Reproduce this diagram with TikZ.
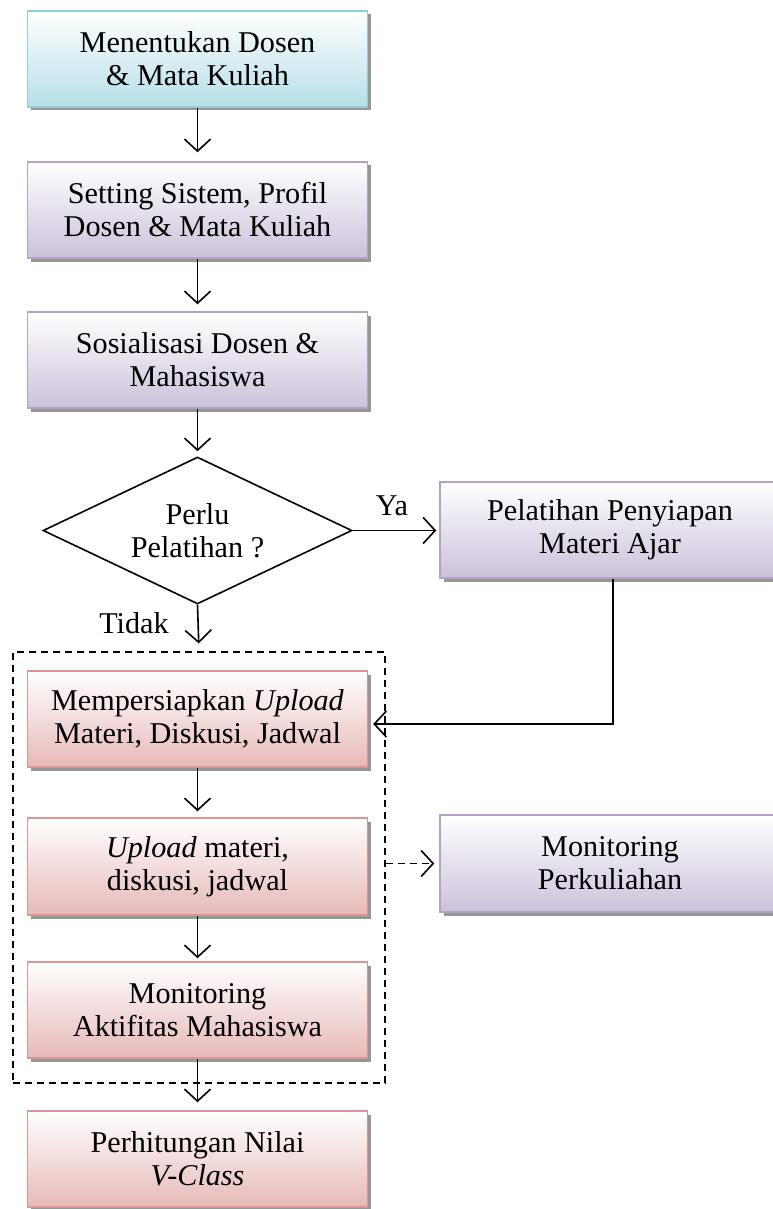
\documentclass[tikz,border=0pt]{standalone}
\usepackage{fontspec}
\setmainfont{Liberation Serif}
\usetikzlibrary{arrows.meta,shapes.geometric,shadows}
\definecolor{cyanB}{HTML}{B7DEE8}
\definecolor{cyanL}{HTML}{93CDDD}
\definecolor{purB}{HTML}{CCC1DA}
\definecolor{purL}{HTML}{B3A2C7}
\definecolor{redB}{HTML}{E6B9B8}
\definecolor{redL}{HTML}{D99694}
\tikzset{
  box/.style={rectangle, minimum width=340pt, minimum height=96pt, inner sep=0pt,
    align=center, line width=1.5pt, top color=white,
    font=\fontsize{30.2}{33}\selectfont,
    drop shadow={shadow xshift=3.5pt, shadow yshift=-3.5pt, fill=black!55, opacity=0.75}},
  cyanbox/.style={box, draw=cyanL, bottom color=cyanB},
  purbox/.style={box, draw=purL, bottom color=purB},
  redbox/.style={box, draw=redL, bottom color=redB},
  arr/.style={line width=1.6pt, -{Straight Barb[length=12pt,width=26pt,line width=1.6pt]}},
  lbl/.style={font=\fontsize{30.2}{33}\selectfont, anchor=base, inner sep=0pt},
}
\begin{document}
\begin{tikzpicture}[x=1pt,y=-1pt]
\useasboundingbox (0,0) rectangle (773,1209);
% group frame
\node[draw, dashed, dash pattern=on 7pt off 5pt, line width=1.4pt, minimum width=372pt, minimum height=431pt, inner sep=0pt] (grp) at (199,867.5) {};
% nodes
\node[cyanbox] (b1) at (197.5,59) {Menentukan Dosen\\ \& Mata Kuliah};
\node[purbox] (b2) at (197.5,210) {Setting Sistem, Profil\\ Dosen \& Mata Kuliah};
\node[purbox] (b3) at (197.5,360) {Sosialisasi Dosen \&\\ Mahasiswa};
\node[diamond, draw, line width=1.6pt, minimum width=309pt, minimum height=147pt, aspect=2.1, inner sep=0pt, align=center, font=\fontsize{30.2}{33}\selectfont] (dia) at (197.5,530.5) {Perlu\\ Pelatihan ?};
\node[purbox] (pel) at (610,530) {Pelatihan Penyiapan\\ Materi Ajar};
\node[redbox] (m1) at (197.5,719) {Mempersiapkan \textit{Upload}\\ Materi, Diskusi, Jadwal};
\node[redbox, minimum height=97pt] (m2) at (197.5,866.5) {\textit{Upload} materi,\\ diskusi, jadwal};
\node[redbox] (m3) at (197.5,1010) {Monitoring\\ Aktifitas Mahasiswa};
\node[redbox] (m4) at (197.5,1159) {Perhitungan Nilai\\ \textit{V-Class}};
\node[purbox, minimum height=97pt] (mon) at (610,863.5) {Monitoring\\ Perkuliahan};
% labels
\node[lbl] (ya) at (392,515) {Ya};
\node[lbl] (tidak) at (134,633) {Tidak};
% connectors
\draw[arr, shorten >=9pt] (b1.south) -- (b2.north);
\draw[arr, shorten >=7pt] (b2.south) -- (b3.north);
\draw[arr, shorten >=5pt] (b3.south) -- (dia.north);
\draw[arr, shorten >=3pt] (dia.east) -- (dia.east -| pel.west);
\draw[arr, shorten >=8pt] (dia.south) -- (grp.north);
\coordinate (elb) at (613,724);
\draw[arr, shorten >=5pt] (pel.south -| elb) -- (elb) -- (elb -| m1.east);
\draw[arr, shorten >=6pt] (m1.south) -- (m2.north);
\draw[arr, shorten >=3pt] (m2.south) -- (m3.north);
\draw[arr, shorten >=8pt] (m3.south) -- (m4.north);
\draw[arr, dashed, dash pattern=on 7pt off 5pt, shorten >=5pt] (grp.east |- mon.west) -- (mon.west);
\end{tikzpicture}
\end{document}
